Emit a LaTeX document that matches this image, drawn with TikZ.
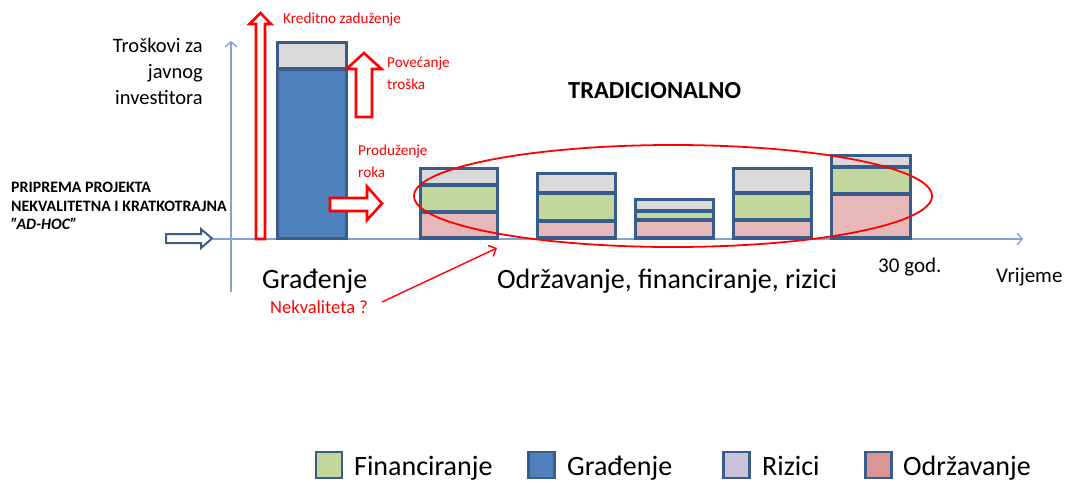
\documentclass[tikz,border=0pt]{standalone}
\usepackage{fontspec}
\setmainfont{Carlito}
\usetikzlibrary{arrows.meta}
\definecolor{edgeblue}{RGB}{56,93,138}
\definecolor{gradblue}{RGB}{79,129,189}
\definecolor{sivo}{RGB}{217,217,217}
\definecolor{zeleno}{RGB}{195,214,155}
\definecolor{roza}{RGB}{230,185,184}
\definecolor{lavanda}{RGB}{204,193,218}
\definecolor{tamnoroza}{RGB}{217,150,148}
\definecolor{axisblue}{RGB}{130,164,210}
\begin{document}
\begin{tikzpicture}[
  x=1pt, y=-1pt,
  seg/.style={draw=edgeblue, line width=3.2pt},
  axis/.style={draw=axisblue, line width=1.4pt, -{Straight Barb[length=5pt,width=12pt]}},
  hollow/.style={draw=red, fill=white, line width=2.6pt},
  lbl/.style={inner sep=0pt, anchor=base west},
  redlbl/.style={lbl, text=red, font=\fontsize{15.2}{18}\selectfont},
  big/.style={font=\fontsize{28}{30}\selectfont},
  legbox/.style={draw=edgeblue, line width=2.6pt, minimum size=26pt, inner sep=0pt},
  legtxt/.style={lbl, font=\fontsize{28}{30}\selectfont}
]
\useasboundingbox (0,0) rectangle (1068,482);

% osi
\coordinate (ybot) at (231,292);
\coordinate (ytop) at (231,41);
\coordinate (xleft) at (213,239);
\coordinate (xright) at (1023,239);
\draw[axis] (ybot) -- (ytop);
\draw[axis] (xleft) -- (xright);

% gradjenje
\draw[seg, fill=gradblue] (277.5,238.5) rectangle (346.5,69);
\draw[seg, fill=sivo] (277.5,69) rectangle (346.5,42.5);

% odrzavanje kroz 30 god.
\draw[seg, fill=roza] (420.5,238) rectangle (497.5,212);
\draw[seg, fill=zeleno] (420.5,212) rectangle (497.5,185);
\draw[seg, fill=sivo] (420.5,185) rectangle (497.5,168.5);

\draw[seg, fill=roza] (537.5,238) rectangle (615.5,221);
\draw[seg, fill=zeleno] (537.5,221) rectangle (615.5,193);
\draw[seg, fill=sivo] (537.5,193) rectangle (615.5,173.5);

\draw[seg, fill=roza] (635.5,238) rectangle (713.5,220);
\draw[seg, fill=zeleno] (635.5,220) rectangle (713.5,211);
\draw[seg, fill=sivo] (635.5,211) rectangle (713.5,199.5);

\draw[seg, fill=roza] (733.5,238) rectangle (811.5,220);
\draw[seg, fill=zeleno] (733.5,220) rectangle (811.5,193);
\draw[seg, fill=sivo] (733.5,193) rectangle (811.5,168.5);

\draw[seg, fill=roza] (831.5,238) rectangle (910.5,194);
\draw[seg, fill=zeleno] (831.5,194) rectangle (910.5,167);
\draw[seg, fill=sivo] (831.5,167) rectangle (910.5,155.5);

\draw[red, line width=1.8pt] (673,196) ellipse [x radius=259, y radius=51];

% strelice
\draw[hollow] (256,239) -- (256,24) -- (249.5,24) -- (260.5,13) -- (271,24) -- (265,24) -- (265,239) -- cycle;
\draw[hollow] (356,117) -- (356,69) -- (346.5,69) -- (364,53) -- (381.5,69) -- (372,69) -- (372,117) -- cycle;
\draw[hollow] (330,198) -- (367,198) -- (367,186.5) -- (382,203.5) -- (367,220) -- (367,211) -- (330,211) -- cycle;
\draw[draw=edgeblue, fill=white, line width=2pt] (166,234) -- (201,234) -- (201,229) -- (212,238.5) -- (201,248) -- (201,243) -- (166,243) -- cycle;

% tekst
\node[redlbl] (kredit) at (283,23) {Kreditno zaduženje};
\node[redlbl] (povecanje1) at (387,67) {Povećanje};
\node[redlbl] (povecanje2) at (387,89) {troška};
\node[redlbl] (produzenje1) at (358,155) {Produženje};
\node[redlbl] (produzenje2) at (358,177) {roka};

\node[inner sep=0pt, anchor=base east, font=\fontsize{20.5}{24}\selectfont] (troskovi1) at (203,52) {Troškovi za};
\node[inner sep=0pt, anchor=base east, font=\fontsize{20.5}{24}\selectfont] (troskovi2) at (203,78) {javnog};
\node[inner sep=0pt, anchor=base east, font=\fontsize{20.5}{24}\selectfont] (troskovi3) at (203,104) {investitora};

\node[lbl, font=\fontsize{15.9}{17}\selectfont\bfseries] (priprema1) at (11,192) {PRIPREMA PROJEKTA};
\node[lbl, font=\fontsize{15.9}{17}\selectfont\bfseries] (priprema2) at (11,211) {NEKVALITETNA I KRATKOTRAJNA};
\node[lbl, font=\fontsize{15.9}{17}\selectfont\bfseries\itshape] (priprema3) at (11,229) {\symbol{34}AD-HOC\symbol{34}};

\node[lbl, font=\fontsize{24.5}{26}\selectfont\bfseries] (tradicionalno) at (568,98) {TRADICIONALNO};

\node[lbl, big] (gradjenje) at (262,288) {Građenje};
\node[lbl, big] (odrzavanje) at (497,288) {Održavanje, financiranje, rizici};
\node[lbl, text=red, font=\fontsize{18.5}{20}\selectfont] (nekvaliteta) at (270,313) {Nekvaliteta ?};
\node[lbl, font=\fontsize{21}{24}\selectfont] (godine) at (878,272) {30 god.};
\node[lbl, font=\fontsize{21}{24}\selectfont] (vrijeme) at (996,282) {Vrijeme};

\coordinate (nekvstart) at (382,302);
\coordinate (nekvtip) at (497,248);
\draw[red, line width=1.4pt, -{Straight Barb[length=6pt,width=12pt]}] (nekvstart) -- (nekvtip);

% legenda
\node[legbox, fill=zeleno] (legfin) at (329,465) {};
\node[legtxt] (legfintxt) at (354,475) {Financiranje};
\node[legbox, fill=gradblue] (leggra) at (541.5,465) {};
\node[legtxt] (leggratxt) at (567,475) {Građenje};
\node[legbox, fill=lavanda] (legriz) at (736.5,465) {};
\node[legtxt] (legriztxt) at (762,475) {Rizici};
\node[legbox, fill=tamnoroza] (legodr) at (878.5,465) {};
\node[legtxt] (legodrtxt) at (903,475) {Održavanje};
\end{tikzpicture}
\end{document}
